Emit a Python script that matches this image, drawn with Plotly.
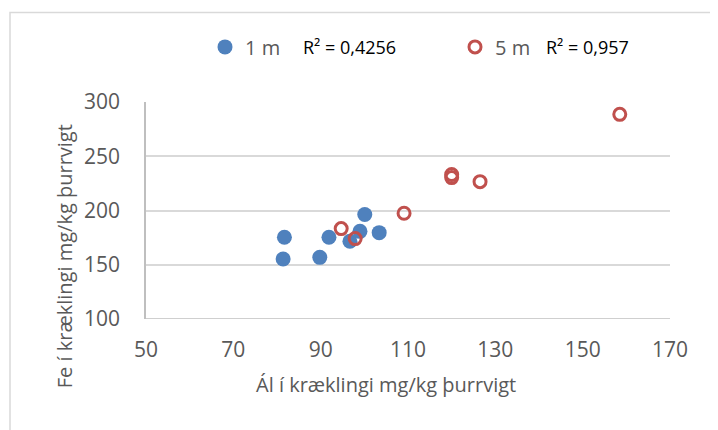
import plotly.graph_objects as go

# Data
x_1m = [81.7, 81.4, 89.8, 91.9, 96.7, 99.0, 100.1, 103.4]
y_1m = [175.3, 155.3, 156.8, 175.3, 171.6, 180.8, 196.3, 179.6]
x_5m = [94.7, 97.9, 109.1, 120.0, 120.0, 126.5, 158.5]
y_5m = [183.3, 174.1, 197.5, 233.1, 230.3, 226.6, 288.6]
series_names = ["1 m", "5 m"]
r2_labels = ["R² = 0,4256", "R² = 0,957"]
x_ticks = [50, 70, 90, 110, 130, 150, 170]
y_ticks = [100, 150, 200, 250, 300]
x_title = "Ál í kræklingi mg/kg þurrvigt"
y_title = "Fe í kræklingi mg/kg þurrvigt"

# page body has an 8px margin; figure sized to fit the window
OFF = 8
W, H = 718 - OFF, 430 - OFF
# plot area in window pixels: x 146..670, y 102..318.7
L = 146 - OFF
R = W - (670 - OFF)
T = 102 - OFF
B = H - (318.7 - OFF)
pw, ph = W - L - R, H - T - B

def px(xp):
    return (xp - OFF - L) / pw

def py(yp):
    return (H - B - (yp - OFF)) / ph

FONT = "Open Sans"
GREY = "#595959"
BLUE = "#4F81BD"
RED = "#C0504D"

fig = go.Figure()
fig.add_trace(go.Scatter(
    x=x_1m, y=y_1m, mode="markers", name=series_names[0],
    marker=dict(symbol="circle", size=15, color=BLUE, line=dict(width=0)),
))
fig.add_trace(go.Scatter(
    x=x_5m, y=y_5m, mode="markers", name=series_names[1],
    marker=dict(symbol="circle-open", size=12, color=RED, line=dict(width=3, color=RED)),
))

fig.update_layout(
    width=W, height=H,
    margin=dict(l=L, r=R, t=T, b=B, autoexpand=False),
    paper_bgcolor="white", plot_bgcolor="white",
    font=dict(family=FONT, color=GREY, size=18),
    showlegend=True,
    legend=dict(
        orientation="h", x=px(205), xanchor="left", y=py(47), yanchor="middle",
        font=dict(family=FONT, size=20, color=GREY),
        entrywidth=205, entrywidthmode="pixels",
        bgcolor="rgba(0,0,0,0)", itemclick=False,
    ),
    xaxis=dict(
        range=[50, 170], tickvals=x_ticks, showgrid=False, zeroline=False,
        showline=False, ticks="", ticklabelstandoff=16,
        tickfont=dict(family=FONT, size=21, color=GREY), fixedrange=True,
    ),
    yaxis=dict(
        range=[100, 300], tickvals=y_ticks, showgrid=True, gridcolor="#D9D9D9",
        gridwidth=1.5, zeroline=False, showline=True, linecolor="#BFBFBF",
        linewidth=1.5, ticks="", ticklabelstandoff=20,
        tickfont=dict(family=FONT, size=21, color=GREY), fixedrange=True,
    ),
)

# bottom axis line at y=100
fig.add_shape(type="line", xref="paper", yref="y", x0=0, x1=1, y0=100, y1=100,
              line=dict(color="#BFBFBF", width=1.5), layer="above")

# outer chart border
fig.add_shape(type="rect", xref="paper", yref="paper",
              x0=px(10), x1=px(716.5), y0=py(12.5), y1=py(445),
              line=dict(color="#D9D9D9", width=1.5), layer="below")

# R² labels
fig.add_annotation(text=r2_labels[0], xref="paper", yref="paper",
                   x=px(301), y=py(47), xanchor="left", yanchor="middle",
                   showarrow=False, font=dict(family=FONT, size=18, color="#000000"))
fig.add_annotation(text=r2_labels[1], xref="paper", yref="paper",
                   x=px(544), y=py(47), xanchor="left", yanchor="middle",
                   showarrow=False, font=dict(family=FONT, size=18, color="#000000"))

# Axis titles
fig.add_annotation(text=x_title, xref="paper", yref="paper",
                   x=px(386), y=py(384), xanchor="center", yanchor="middle",
                   showarrow=False, font=dict(family=FONT, size=20, color=GREY))
fig.add_annotation(text=y_title, xref="paper", yref="paper",
                   x=px(64), y=py(256), xanchor="center", yanchor="middle",
                   textangle=-90, showarrow=False,
                   font=dict(family=FONT, size=20, color=GREY))

fig.write_html("out.html")
